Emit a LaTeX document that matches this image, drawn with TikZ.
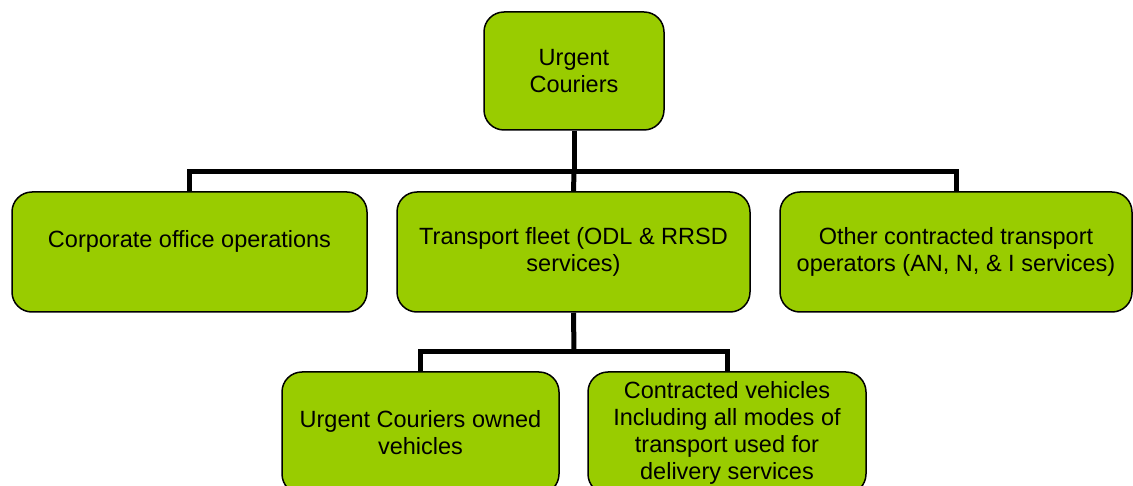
\documentclass[tikz,border=0pt]{standalone}
\usepackage{fontspec}
\setmainfont{Liberation Sans}
\usetikzlibrary{positioning}
\usetikzlibrary{calc}
\definecolor{boxgreen}{HTML}{99CC00}
\begin{document}
\begin{tikzpicture}[
    x=1pt, y=-1pt,
    unitbox/.style={
        draw, fill=boxgreen, line width=1.5pt, rounded corners=20pt,
        align=center, inner sep=0pt,
        font=\fontsize{23.5}{27}\selectfont
    },
    link/.style={line width=5pt}
  ]

    % Frame
    \useasboundingbox (0,0) rectangle (1133,486);
    \clip (0,0) rectangle (1133,486);

    % Top
    \node[unitbox, minimum width=180pt, minimum height=118pt] (uc) at (574,71) {Urgent\\Couriers};

    % Second row
    \node[unitbox, minimum width=355pt, minimum height=120pt] (corp) at (189.5,252) {Corporate office operations\\\mbox{}};
    \node[unitbox, minimum width=353pt, minimum height=120pt] (fleet) at (573.5,252) {Transport fleet (ODL \& RRSD\\services)};
    \node[unitbox, minimum width=352pt, minimum height=120pt] (other) at (956,252) {Other contracted transport\\operators (AN, N, \& I services)};

    % Third row
    \node[unitbox, minimum width=277pt, minimum height=122pt] (owned) at (420.5,433) {Urgent Couriers owned\\vehicles};
    \node[unitbox, minimum width=278pt, minimum height=122pt] (contr) at (727,433) {Contracted vehicles\\Including all modes of\\transport used for\\delivery services};

    % Links
    \coordinate (bus1) at (574,172);
    \coordinate (bus2) at (574,352);

    \draw[link] (uc.south) -- (bus1);
    \draw[link] (bus1) -| (corp.north);
    \draw[link] (bus1) -| (other.north);
    \draw[link] (bus1) -- (fleet.north);

    \draw[link] (fleet.south) -- (bus2);
    \draw[link] (bus2) -| (owned.north);
    \draw[link] (bus2) -| (contr.north);

\end{tikzpicture}
\end{document}
